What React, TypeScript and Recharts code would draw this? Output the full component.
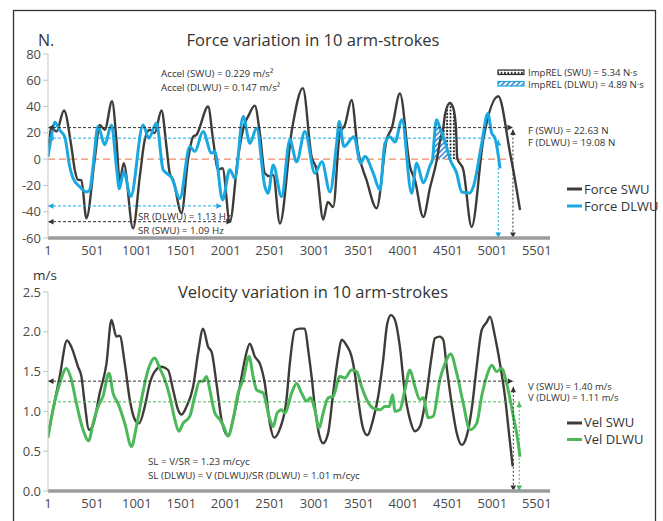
import React from 'react';
import { ComposedChart, Line, Area, XAxis, YAxis, ReferenceLine } from 'recharts';

// ---------- Force panel data ----------
const forceSwuX = [1, 39, 96, 181, 264, 302, 339, 377, 433, 527, 583, 640, 722, 771, 808, 853, 958, 1034, 1090, 1146, 1202, 1278, 1334, 1371, 1409, 1503, 1578, 1634, 1672, 1803, 1859, 1915, 1965, 2047, 2140, 2216, 2253, 2328, 2385, 2441, 2497, 2535, 2610, 2745, 2869, 2967, 3023, 3098, 3150, 3210, 3286, 3342, 3417, 3488, 3586, 3699, 3811, 3871, 3961, 4074, 4130, 4224, 4299, 4378, 4419, 4449, 4468, 4524, 4561, 4592, 4606, 4674, 4768, 4899, 5068, 5200, 5257, 5313];
const forceSwuV = [2, 24, 21, 37, 9.6, -8, -15.8, -16, -45, 0, 26, 22.4, 44, 14.7, -17, -3, -52.7, -13.3, 14.7, 22.4, 19.8, 37, 9.6, -10.7, -15.8, -41, 0, 17, 18.5, 40, 14.7, -8, -6.9, -47.6, 2, 27.5, 32.5, 40.7, 19.8, -10.7, -13, -12, -49, 22, 54, 2, -8, -46, -32.6, -36.4, 20, 26, 45, 7, -16, -37.4, 14.7, 24, 50, -5.6, -16, -44, -22, 0, 16, 23.7, 33.8, 42.7, 39, 23.7, 0.8, -8, -51.5, 14.7, 47.8, 4.8, -16, -38.7];

const forceDlwuX = [1, 39, 76, 133, 189, 245, 283, 358, 433, 470, 508, 564, 639, 715, 771, 803, 853, 932, 1071, 1135, 1222, 1296, 1334, 1394, 1484, 1597, 1653, 1746, 1841, 1878, 1965, 2047, 2104, 2197, 2273, 2348, 2442, 2478, 2535, 2629, 2723, 2798, 2892, 3004, 3083, 3174, 3249, 3278, 3331, 3444, 3519, 3567, 3661, 3736, 3793, 3849, 3905, 3984, 4093, 4149, 4224, 4299, 4329, 4352, 4374, 4411, 4479, 4524, 4600, 4656, 4749, 4787, 4882, 4950, 4994, 5031, 5088];
const forceDlwuV = [2, 17, 28, 22, 17, -5.6, -14.5, -21, -25, -23.4, -5.6, 25, 11, 26, -5.6, -22.6, -9.5, -28.5, 26, 16, 27.5, -8, -10.6, -14.3, -30, 9.6, 5.8, 21, 4.6, 5.8, -31, -8, -14.5, 32.5, 12, 23.7, -21, -26, -4.4, -28.5, 14.7, -2, 21, -10.7, -2, -25, 12, 28.7, 9.6, 17, -3, 2, -10.7, -23.4, 12, 17, 13, 30, -26, -3, -18, -5, 0, 20, 30, 23.7, 10.9, 0, -10.7, -25, -25.7, -21, 12, 34.8, 19.8, 16, -7];

// relative impulse regions
const impDlwuX = [4329, 4352, 4374, 4411, 4449, 4479, 4524];
const impDlwuV = [0, 20, 30, 23.7, 16, 10.9, 0];
const impSwuX = [4430, 4449, 4468, 4500, 4524, 4561, 4592, 4606];
const impSwuLow = [19, 16, 12.5, 5, 0, 0, 0, 0];
const impSwuHigh = [19, 23.7, 33.8, 41, 42.7, 39, 23.7, 0.8];

// ---------- Velocity panel data ----------
const velSwuX = [1, 57, 133, 215, 264, 339, 377, 414, 463, 508, 583, 659, 715, 771, 808, 865, 921, 977, 1026, 1090, 1146, 1202, 1278, 1352, 1409, 1465, 1503, 1559, 1634, 1690, 1746, 1803, 1841, 1897, 1953, 2028, 2084, 2159, 2216, 2272, 2328, 2385, 2441, 2497, 2546, 2610, 2685, 2722, 2779, 2835, 2891, 2929, 2967, 3004, 3041, 3097, 3154, 3210, 3266, 3305, 3361, 3417, 3454, 3492, 3541, 3593, 3660, 3717, 3773, 3818, 3860, 3905, 3961, 4017, 4074, 4130, 4186, 4262, 4318, 4355, 4411, 4449, 4487, 4543, 4600, 4656, 4712, 4768, 4825, 4881, 4937, 4975, 5031, 5087, 5143, 5192, 5230];
const velSwuV = [0.7, 1.02, 1.44, 1.89, 1.81, 1.56, 1.44, 1.1, 0.77, 0.83, 1.23, 1.6, 2.15, 1.94, 1.95, 1.6, 1.15, 0.9, 0.85, 1.06, 1.35, 1.5, 1.56, 1.52, 1.27, 1.02, 0.96, 1.06, 1.31, 1.73, 2.04, 1.81, 1.75, 1.35, 0.9, 0.69, 0.9, 1.31, 1.65, 1.85, 1.69, 1.6, 1.35, 0.85, 0.67, 0.78, 1.15, 1.6, 2.02, 2.04, 2.04, 1.77, 1.44, 1.06, 0.77, 0.6, 0.73, 1.23, 1.69, 1.9, 1.83, 1.69, 1.48, 1.15, 0.81, 0.7, 0.9, 1.19, 1.65, 2.1, 2.21, 2.15, 1.81, 1.23, 0.9, 0.75, 0.81, 1.23, 1.69, 1.92, 1.94, 1.9, 1.56, 1.1, 0.73, 0.58, 0.69, 1.02, 1.56, 2.02, 2.12, 2.19, 1.94, 1.6, 1.19, 0.69, 0.31];

const velDlwuX = [1, 57, 133, 208, 264, 321, 395, 459, 508, 564, 620, 688, 733, 789, 865, 940, 996, 1053, 1127, 1202, 1259, 1315, 1371, 1428, 1473, 1521, 1597, 1653, 1709, 1746, 1785, 1822, 1878, 1934, 1979, 2028, 2084, 2140, 2197, 2264, 2309, 2348, 2422, 2497, 2535, 2580, 2629, 2666, 2742, 2798, 2854, 2911, 2956, 3004, 3053, 3097, 3154, 3210, 3286, 3342, 3417, 3474, 3530, 3586, 3660, 3736, 3792, 3841, 3879, 3905, 3961, 4017, 4074, 4130, 4186, 4224, 4280, 4336, 4411, 4468, 4532, 4600, 4674, 4749, 4825, 4881, 4937, 4994, 5050, 5106, 5163, 5237, 5293, 5312];
const velDlwuV = [0.67, 1.02, 1.35, 1.54, 1.4, 1.1, 0.77, 0.63, 0.85, 1.06, 1.19, 1.48, 1.23, 1.1, 0.85, 0.56, 0.81, 1.15, 1.52, 1.67, 1.54, 1.4, 1.19, 0.9, 0.75, 0.85, 0.94, 1.19, 1.38, 1.38, 1.44, 1.27, 0.98, 0.9, 0.81, 0.69, 0.9, 1.23, 1.4, 1.69, 1.44, 1.27, 1.23, 0.9, 0.81, 0.98, 1.02, 0.98, 1.23, 1.35, 1.23, 1.13, 1.17, 1.02, 0.79, 0.98, 1.17, 1.19, 1.44, 1.42, 1.52, 1.5, 1.31, 1.15, 1.04, 1.02, 1.06, 1.06, 1.21, 1.0, 1.02, 1.27, 1.52, 1.31, 1.15, 1.17, 0.92, 0.94, 1.4, 1.6, 1.72, 1.48, 1.1, 0.77, 0.85, 1.19, 1.44, 1.58, 1.5, 1.54, 1.35, 0.94, 0.6, 0.43];

// ---------- axes ----------
const xTicks = [1, 501, 1001, 1501, 2001, 2501, 3001, 3501, 4001, 4501, 5001, 5501];
const xDomain = [1, 5650];
const forceTicks = [-60, -40, -20, 0, 20, 40, 60, 80];
const velTicks = [0, 0.5, 1.0, 1.5, 2.0, 2.5];

// ---------- summary marker values ----------
const fSwuMean = 24;
const fDlwuMean = 16;
const fSwuEndX = 5233;
const fDlwuEndX = 5068;
const srDlwuY = -35.6;
const srDlwuEndX = 1957;
const srSwuY = -47.6;
const srSwuEndX = 2070;
const vSwuMean = 1.38;
const vDlwuMean = 1.12;
const vSwuEndX = 5237;
const vSwuTop = 1.31;
const vDlwuEndX = 5304;

const pts = (xs: number[], vs: number[]) => xs.map((x, i) => ({ x, v: vs[i] }));
const rangePts = (xs: number[], lo: number[], hi: number[]) => xs.map((x, i) => ({ x, r: [lo[i], hi[i]] }));

const forceSwu = pts(forceSwuX, forceSwuV);
const forceDlwu = pts(forceDlwuX, forceDlwuV);
const impDlwu = rangePts(impDlwuX, impDlwuX.map(() => 0), impDlwuV);
const impSwu = rangePts(impSwuX, impSwuLow, impSwuHigh);
const velSwu = pts(velSwuX, velSwuV);
const velDlwu = pts(velDlwuX, velDlwuV);

const DARK = '#3f3c38';
const BLUE = '#1ba8e0';
const GREEN = '#4cb85a';
const FONT = '"Open Sans", sans-serif';

type ArrowOpts = { color: string; dash: string; start?: boolean; end?: boolean; w?: number };
const arrowShape = (o: ArrowOpts) => (p: any) => {
  const { x1, y1, x2, y2 } = p;
  const ang = Math.atan2(y2 - y1, x2 - x1);
  const head = (x: number, y: number, a: number) => {
    const L = 5.5, H = 2.8;
    const bx = x - L * Math.cos(a), by = y - L * Math.sin(a);
    const px = -Math.sin(a) * H, py = Math.cos(a) * H;
    return `M${x},${y}L${bx + px},${by + py}L${bx - px},${by - py}Z`;
  };
  return (
    <g>
      <line x1={x1} y1={y1} x2={x2} y2={y2} stroke={o.color} strokeWidth={o.w ?? 1} strokeDasharray={o.dash} />
      {o.start && <path d={head(x1, y1, ang + Math.PI)} fill={o.color} />}
      {o.end && <path d={head(x2, y2, ang)} fill={o.color} />}
    </g>
  );
};

const axisTick = { fontSize: 13, fill: '#4a4a4a', fontFamily: FONT };

const xAxisEl = (
  <XAxis
    dataKey="x"
    type="number"
    domain={xDomain}
    ticks={xTicks}
    interval={0}
    allowDataOverflow
    axisLine={{ stroke: '#9c9c9c', strokeWidth: 3.5 }}
    tickLine={false}
    tick={axisTick}
    height={20}
  />
);

export default function App() {
  return (
    <div style={{ position: 'absolute', left: 0, top: 0, width: 663, height: 521, background: '#fff', overflow: 'hidden', fontFamily: FONT }}>
      <svg width={0} height={0} style={{ position: 'absolute' }}>
        <defs>
          <pattern id="dotsP" width="3.4" height="3.4" patternUnits="userSpaceOnUse">
            <rect width="3.4" height="3.4" fill="#fff" />
            <circle cx="1.7" cy="1.7" r="1" fill="#1a1a1a" />
          </pattern>
          <pattern id="hatchP" width="3.6" height="3.6" patternUnits="userSpaceOnUse" patternTransform="rotate(45)">
            <rect width="3.6" height="3.6" fill="#fff" />
            <line x1="0.8" y1="0" x2="0.8" y2="3.6" stroke="#2f7fc6" strokeWidth="1.5" />
          </pattern>
        </defs>
      </svg>

      {/* Force panel */}
      <div style={{ position: 'absolute', left: 0, top: 0 }}>
        <ComposedChart width={663} height={262} margin={{ top: 54, right: 113, bottom: 4, left: 0 }}>
          {xAxisEl}
          <YAxis
            type="number"
            domain={[-60, 80]}
            ticks={forceTicks}
            interval={0}
            width={48}
            axisLine={{ stroke: '#c4c4c4' }}
            tickLine={{ stroke: '#c4c4c4' }}
            tickSize={5}
            tick={axisTick}
          />
          <ReferenceLine segment={[{ x: 1, y: 0 }, { x: fSwuEndX, y: 0 }]} ifOverflow="visible" shape={arrowShape({ color: '#ef8a62', dash: '7 4', w: 1.3 })} />
          <Area data={impDlwu} dataKey="r" type="monotone" stroke="none" fill="url(#hatchP)" fillOpacity={1} isAnimationActive={false} />
          <Area data={impSwu} dataKey="r" type="monotone" stroke="none" fill="url(#dotsP)" fillOpacity={1} isAnimationActive={false} />
          <Line data={forceSwu} dataKey="v" type="monotone" stroke={DARK} strokeWidth={2.4} dot={false} isAnimationActive={false} />
          <Line data={forceDlwu} dataKey="v" type="monotone" stroke={BLUE} strokeWidth={3} dot={false} isAnimationActive={false} />
          <ReferenceLine segment={[{ x: 1, y: fSwuMean }, { x: fSwuEndX, y: fSwuMean }]} ifOverflow="visible" shape={arrowShape({ color: '#333', dash: '3 2', start: true, end: true })} />
          <ReferenceLine segment={[{ x: 1, y: fDlwuMean }, { x: fDlwuEndX, y: fDlwuMean }]} ifOverflow="visible" shape={arrowShape({ color: BLUE, dash: '3 2', start: true })} />
          <ReferenceLine segment={[{ x: fSwuEndX, y: fSwuMean - 1.5 }, { x: fSwuEndX, y: -60 }]} ifOverflow="visible" shape={arrowShape({ color: '#333', dash: '2 2', start: true, end: true })} />
          <ReferenceLine segment={[{ x: fDlwuEndX, y: fDlwuMean - 1.5 }, { x: fDlwuEndX, y: -60 }]} ifOverflow="visible" shape={arrowShape({ color: BLUE, dash: '2 2', start: true, end: true })} />
          <ReferenceLine segment={[{ x: 1, y: srDlwuY }, { x: srDlwuEndX, y: srDlwuY }]} ifOverflow="visible" shape={arrowShape({ color: BLUE, dash: '3 2', start: true, end: true })} />
          <ReferenceLine segment={[{ x: 1, y: srSwuY }, { x: srSwuEndX, y: srSwuY }]} ifOverflow="visible" shape={arrowShape({ color: '#333', dash: '3 2', start: true, end: true })} />
        </ComposedChart>
      </div>

      {/* Velocity panel */}
      <div style={{ position: 'absolute', left: 0, top: 260 }}>
        <ComposedChart width={663} height={261} margin={{ top: 32, right: 113, bottom: 10, left: 0 }}>
          {xAxisEl}
          <YAxis
            type="number"
            domain={[0, 2.5]}
            ticks={velTicks}
            interval={0}
            width={48}
            axisLine={{ stroke: '#c4c4c4' }}
            tickLine={{ stroke: '#c4c4c4' }}
            tickSize={5}
            tick={axisTick}
            tickFormatter={(v: number) => v.toFixed(1)}
          />
          <Line data={velSwu} dataKey="v" type="monotone" stroke={DARK} strokeWidth={2.4} dot={false} isAnimationActive={false} />
          <Line data={velDlwu} dataKey="v" type="monotone" stroke={GREEN} strokeWidth={3} dot={false} isAnimationActive={false} />
          <ReferenceLine segment={[{ x: 1, y: vSwuMean }, { x: vSwuEndX, y: vSwuMean }]} ifOverflow="visible" shape={arrowShape({ color: '#333', dash: '3 2', start: true, end: true })} />
          <ReferenceLine segment={[{ x: 1, y: vDlwuMean }, { x: vDlwuEndX, y: vDlwuMean }]} ifOverflow="visible" shape={arrowShape({ color: GREEN, dash: '3 2' })} />
          <ReferenceLine segment={[{ x: vSwuEndX, y: vSwuTop }, { x: vSwuEndX, y: 0 }]} ifOverflow="visible" shape={arrowShape({ color: '#333', dash: '2 2', start: true, end: true })} />
          <ReferenceLine segment={[{ x: vDlwuEndX, y: vDlwuMean }, { x: vDlwuEndX, y: 0 }]} ifOverflow="visible" shape={arrowShape({ color: GREEN, dash: '2 2', start: true, end: true })} />
        </ComposedChart>
      </div>

      {/* Annotations overlay */}
      <svg width={663} height={521} style={{ position: 'absolute', left: 0, top: 0, pointerEvents: 'none' }} fontFamily={FONT}>
        <rect x={13.5} y={10.5} width={642} height={530} fill="none" stroke="#333" strokeWidth={1.3} />
        <text x={38} y={46} fontSize={16} fill="#333">N.</text>
        <text x={313} y={46} fontSize={16.5} fill="#333" textAnchor="middle">Force variation in 10 arm-strokes</text>
        <text x={161} y={77} fontSize={9.8} fill="#333">Accel (SWU) = 0.229 m/s²</text>
        <text x={161} y={90.5} fontSize={9.8} fill="#333">Accel (DLWU) = 0.147 m/s²</text>

        <rect x={498} y={70} width={26} height={4.5} fill="url(#dotsP)" stroke="#333" strokeWidth={1.2} />
        <rect x={498} y={81.5} width={26} height={4.5} fill="url(#hatchP)" stroke={BLUE} strokeWidth={1.2} />
        <text x={528} y={75.5} fontSize={9.6} fill="#333">ImpREL (SWU) = 5.34 N·s</text>
        <text x={528} y={88} fontSize={9.6} fill="#333">ImpREL (DLWU) = 4.89 N·s</text>

        <text x={528} y={133.5} fontSize={9.8} fill="#333">F (SWU) = 22.63 N</text>
        <text x={528} y={146} fontSize={9.8} fill="#333">F (DLWU) = 19.08 N</text>

        <line x1={567} y1={189} x2={582} y2={189} stroke={DARK} strokeWidth={3} />
        <text x={584} y={193.5} fontSize={13} fill="#333">Force SWU</text>
        <line x1={567} y1={206} x2={582} y2={206} stroke={BLUE} strokeWidth={3} />
        <text x={584} y={210.5} fontSize={13} fill="#333">Force DLWU</text>

        <text x={138} y={219.5} fontSize={9.8} fill="#333">SR (DLWU) = 1.13 Hz</text>
        <text x={138} y={233.5} fontSize={9.8} fill="#333">SR (SWU) = 1.09 Hz</text>

        <text x={33} y={280} fontSize={13.5} fill="#333">m/s</text>
        <text x={313} y={298} fontSize={16.5} fill="#333" textAnchor="middle">Velocity variation in 10 arm-strokes</text>

        <text x={528} y={389.5} fontSize={9.6} fill="#333">V (SWU) = 1.40 m/s</text>
        <text x={528} y={401} fontSize={9.6} fill="#333">V (DLWU) = 1.11 m/s</text>

        <line x1={567} y1={423} x2={582} y2={423} stroke={DARK} strokeWidth={3} />
        <text x={584} y={427} fontSize={13} fill="#333">Vel SWU</text>
        <line x1={567} y1={439.5} x2={582} y2={439.5} stroke={GREEN} strokeWidth={3} />
        <text x={584} y={444} fontSize={13} fill="#333">Vel DLWU</text>

        <text x={148} y={465} fontSize={9.8} fill="#333">SL = V/SR = 1.23 m/cyc</text>
        <text x={148} y={478.5} fontSize={9.8} fill="#333">SL (DLWU) = V (DLWU)/SR (DLWU) = 1.01 m/cyc</text>
      </svg>
    </div>
  );
}
